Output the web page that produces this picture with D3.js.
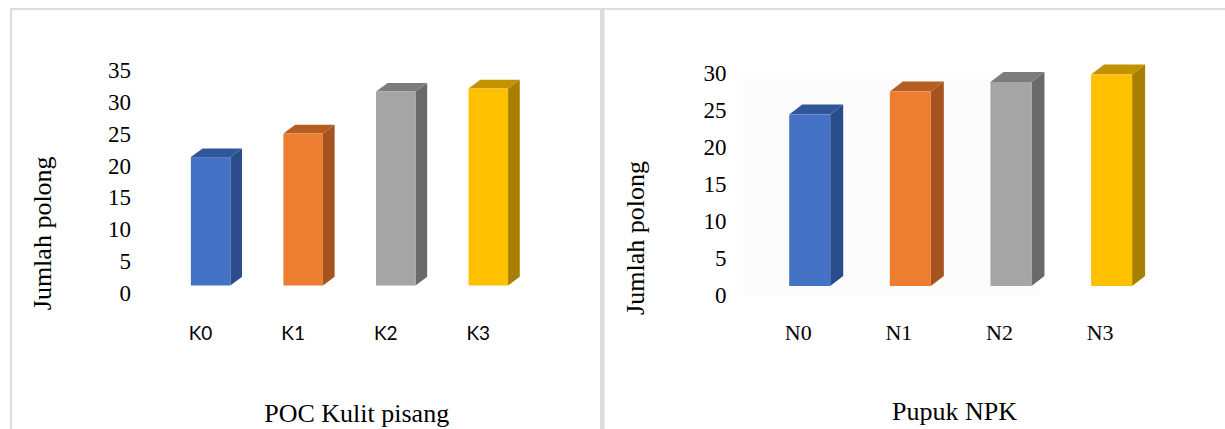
<!DOCTYPE html>
<html>
<head>
<meta charset="utf-8">
<script src="https://cdn.jsdelivr.net/npm/d3@7"></script>
<style>
  html, body { margin: 0; padding: 0; background: #ffffff; }
  svg { display: block; }
</style>
</head>
<body>
<svg id="chart" width="1225" height="429"></svg>
<script>
// ---- data ----
const categoriesK = ["K0", "K1", "K2", "K3"];
const valuesK = [21.3, 25.0, 31.6, 32.1];
const ticksK = [0, 5, 10, 15, 20, 25, 30, 35];

const categoriesN = ["N0", "N1", "N2", "N3"];
const valuesN = [24.3, 27.4, 28.7, 29.7];
const ticksN = [0, 5, 10, 15, 20, 25, 30];

const yTitle = "Jumlah polong";
const titleK = "POC Kulit pisang";
const titleN = "Pupuk NPK";

const frontColors = ["#4472C4", "#ED7D31", "#A5A5A5", "#FFC000"];
const sideColors  = ["#2B4C8A", "#A5541F", "#6A6A6A", "#A87F00"];
const topColors   = ["#30569A", "#B85D22", "#7C7C7C", "#C39200"];

const svg = d3.select("#chart");
const serif = "'Liberation Serif', 'Times New Roman', serif";

// frame lines
svg.append("rect").attr("x", 10).attr("y", 8).attr("width", 1215).attr("height", 2).attr("fill", "#dddddd");
svg.append("rect").attr("x", 10).attr("y", 8).attr("width", 2).attr("height", 421).attr("fill", "#dddddd");
svg.append("rect").attr("x", 600).attr("y", 8).attr("width", 4.5).attr("height", 421).attr("fill", "#dcdcdc");

function panel(cfg) {
  const g = svg.append("g");
  const x = d3.scalePoint().domain(cfg.cats).range(cfg.xRange);
  const y = d3.scaleLinear().domain(cfg.yDomain).range(cfg.yRange);
  const base = y(0) - cfg.baseLift;
  const hw = cfg.barW / 2;

  if (cfg.plotBg) {
    g.append("rect")
      .attr("x", cfg.plotBg[0]).attr("y", y(cfg.yDomain[1]))
      .attr("width", cfg.plotBg[1] - cfg.plotBg[0]).attr("height", y(0) - y(cfg.yDomain[1]))
      .attr("fill", "#fcfcfc");
  }

  // y tick labels via axis
  const axis = d3.axisLeft(y).tickValues(cfg.ticks).tickSize(0).tickPadding(0);
  const ag = g.append("g").attr("transform", `translate(${cfg.axisX},0)`).call(axis);
  ag.select(".domain").remove();
  ag.selectAll("text")
    .attr("font-family", serif)
    .attr("font-size", cfg.tickSize)
    .attr("fill", "#000")
    .attr("dy", "0.34em");

  const bars = g.selectAll(".bar").data(cfg.vals).enter().append("g");
  bars.each(function(v, i) {
    const b = d3.select(this);
    const cx = x(cfg.cats[i]);
    const xl = cx - hw, xr = cx + hw;
    const yt = y(v);
    const dx = cfg.dx, dy = cfg.dy;
    // side
    b.append("polygon")
      .attr("points", [[xr, yt], [xr + dx, yt - dy], [xr + dx, base - dy], [xr, base]].map(p => p.join(",")).join(" "))
      .attr("fill", sideColors[i]);
    // top
    b.append("polygon")
      .attr("points", [[xl, yt], [xl + dx, yt - dy], [xr + dx, yt - dy], [xr, yt]].map(p => p.join(",")).join(" "))
      .attr("fill", topColors[i]);
    // front
    b.append("rect")
      .attr("x", xl).attr("y", yt)
      .attr("width", cfg.barW).attr("height", base - yt)
      .attr("fill", frontColors[i]);
  });

  // category labels
  g.selectAll(".cat").data(cfg.cats).enter().append("text")
    .attr("x", d => x(d) + cfg.labelShift)
    .attr("y", cfg.catBaseline)
    .attr("text-anchor", "middle")
    .attr("font-family", cfg.catFont)
    .attr("font-size", cfg.catSize)
    .attr("fill", "#000")
    .text(d => d);

  // y title
  g.append("text")
    .attr("transform", `translate(${cfg.yTitlePos[0]},${cfg.yTitlePos[1]}) rotate(-90)`)
    .attr("text-anchor", "middle")
    .attr("font-family", serif)
    .attr("font-size", 26)
    .attr("fill", "#000")
    .text(yTitle);

  // x title
  g.append("text")
    .attr("x", cfg.titlePos[0]).attr("y", cfg.titlePos[1])
    .attr("text-anchor", "middle")
    .attr("font-family", serif)
    .attr("font-size", 26)
    .attr("fill", "#000")
    .text(cfg.title);
}

panel({
  cats: categoriesK, vals: valuesK, ticks: ticksK,
  xRange: [210.6, 488.3], yDomain: [0, 35], yRange: [292.5, 70],
  baseLift: 7, barW: 39.5, dx: 11.7, dy: 8.7,
  axisX: 131, tickSize: 23,
  labelShift: -10, catBaseline: 339.5, catFont: "Lato, 'Open Sans', sans-serif", catSize: 19,
  yTitlePos: [51, 233.3], titlePos: [356.7, 421.7], title: titleK
});

panel({
  cats: categoriesN, vals: valuesN, ticks: ticksN,
  xRange: [809.7, 1111.6], yDomain: [0, 30], yRange: [295, 72.3],
  baseLift: 9, barW: 41, dx: 13, dy: 10,
  axisX: 726.5, tickSize: 23,
  labelShift: -11.5, catBaseline: 340, catFont: serif, catSize: 22,
  yTitlePos: [644, 238], titlePos: [954.5, 419.5], title: titleN,
  plotBg: [743, 1040]
});
</script>
</body>
</html>
